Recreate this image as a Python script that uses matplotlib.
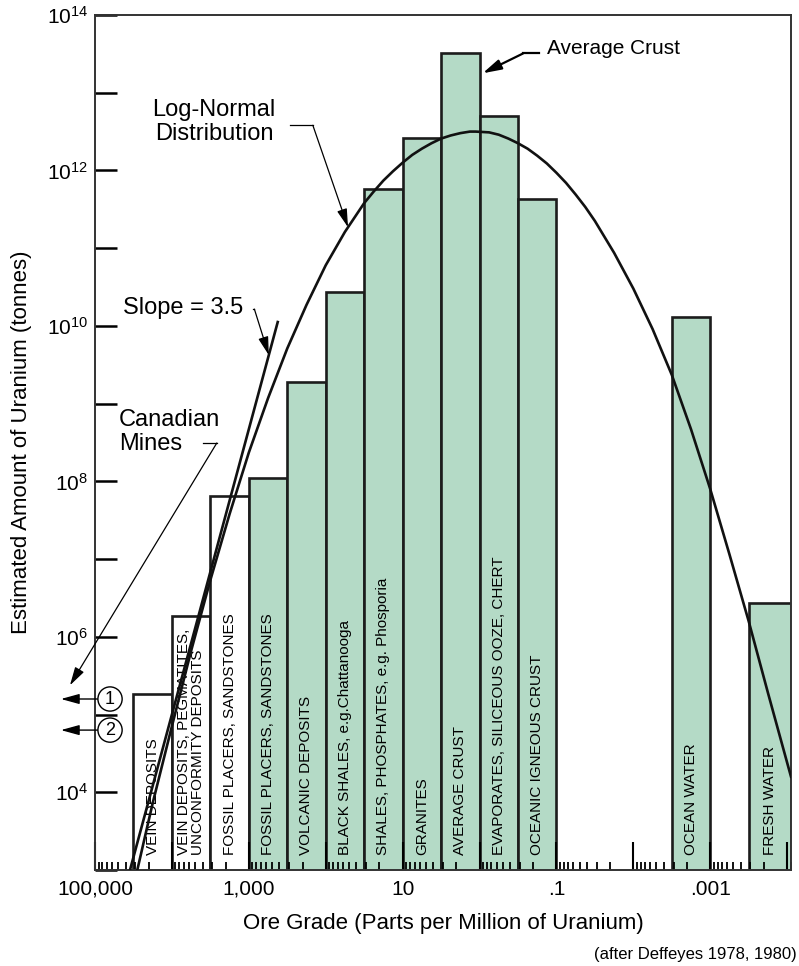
import matplotlib
matplotlib.use("Agg")
import matplotlib.pyplot as plt
import numpy as np

plt.rcParams["font.family"] = ["Liberation Sans", "DejaVu Sans"]
plt.rcParams["mathtext.fontset"] = "custom"
plt.rcParams["mathtext.rm"] = "Liberation Sans"

# deposit classes, grade bins (log10 ppm) and tonnage (log10 tonnes)
deposit_names = [
    "VEIN DEPOSITS",
    "VEIN DEPOSITS, PEGMATITES,\nUNCONFORMITY DEPOSITS",
    "FOSSIL PLACERS, SANDSTONES",
    "FOSSIL PLACERS, SANDSTONES",
    "VOLCANIC DEPOSITS",
    "BLACK SHALES, e.g.Chattanooga",
    "SHALES, PHOSPHATES, e.g. Phosporia",
    "GRANITES",
    "AVERAGE CRUST",
    "EVAPORATES, SILICEOUS OOZE, CHERT",
    "OCEANIC IGNEOUS CRUST",
    "OCEAN WATER",
    "FRESH WATER",
]
grade_hi_exp = [4.5, 4.0, 3.5, 3.0, 2.5, 2.0, 1.5, 1.0, 0.5, 0.0, -0.5, -2.5, -3.5]
grade_lo_exp = [4.0, 3.5, 3.0, 2.5, 2.0, 1.5, 1.0, 0.5, 0.0, -0.5, -1.0, -3.0, -4.05]
tonnes_exp = [5.26, 6.27, 7.81, 8.04, 9.28, 10.44, 11.76, 12.42, 13.51, 12.70, 11.63, 10.11, 6.43]

# log-normal curve
curve_grade_exp = [4.45, 4.25, 4.00, 3.75, 3.50, 3.25, 3.00, 2.75, 2.50, 2.25, 2.00, 1.75,
                   1.50, 1.375, 1.25, 1.125, 1.00, 0.875, 0.75, 0.625, 0.50, 0.375, 0.25,
                   0.125, 0.05, -0.125, -0.25, -0.375, -0.50, -0.625, -0.75, -0.875, -1.00,
                   -1.125, -1.25, -1.375, -1.50, -1.75, -2.00, -2.25, -2.50, -2.75, -3.00,
                   -3.25, -3.50, -3.75, -4.05]
curve_tonnes_exp = [3.00, 3.86, 4.85, 5.82, 6.73, 7.58, 8.37, 9.07, 9.71, 10.27, 10.78, 11.21,
                    11.58, 11.73, 11.87, 11.99, 12.10, 12.20, 12.28, 12.35, 12.41, 12.45, 12.48,
                    12.50, 12.50, 12.49, 12.46, 12.41, 12.35, 12.28, 12.19, 12.09, 11.97,
                    11.84, 11.69, 11.53, 11.35, 10.94, 10.48, 9.96, 9.37, 8.67, 7.90,
                    7.06, 6.20, 5.28, 4.20]

# slope = 3.5 line end points
slope_grade_exp = [4.545, 2.624]
slope_tonnes_exp = [3.0, 10.05]

# canadian mines (off the scale)
mines_tonnes_exp = [5.2, 4.8]
mines_labels = ["1", "2"]

x_tick_exp = [5, 4, 3, 2, 1, 0, -1, -2, -3, -4]
x_tick_labels = ["100,000", "", "1,000", "", "10", "", ".1", "", ".001", ""]
y_tick_exp = list(range(3, 15))

GREEN = "#b4dac6"
EDGE = "#1c1c1c"

fig = plt.figure(figsize=(7.99, 9.66), dpi=100)
ax = fig.add_axes([95 / 799, 1 - 870 / 966, 696 / 799, 855 / 966])
ax.set_xscale("log")
ax.set_yscale("log")
ax.set_xlim(1e5, 10 ** -4.05)
ax.set_ylim(1e3, 1e14)

# * bars
lo = 10.0 ** np.array(grade_lo_exp)
hi = 10.0 ** np.array(grade_hi_exp)
tonnes = 10.0 ** np.array(tonnes_exp)
colors = ["white"] * 3 + [GREEN] * (len(tonnes) - 3)
ax.bar(lo, tonnes - 1e2, width=hi - lo, bottom=1e2, align="edge",
       color=colors, edgecolor=EDGE, linewidth=1.9, zorder=1)

for name, a, b in zip(deposit_names, grade_lo_exp, grade_hi_exp):
    ax.text(10 ** ((a + b) / 2), 0.0175, name, transform=ax.get_xaxis_transform(),
            rotation=90, ha="center", va="bottom", fontsize=11, multialignment="left",
            linespacing=1.0, zorder=3)

# * curves
ax.plot(10.0 ** np.array(curve_grade_exp), 10.0 ** np.array(curve_tonnes_exp),
        color="#111111", lw=1.9, zorder=4, solid_joinstyle="round")
ax.plot(10.0 ** np.array(slope_grade_exp), 10.0 ** np.array(slope_tonnes_exp),
        color="#111111", lw=1.9, zorder=4)

# * ticks
ax.set_xticks(10.0 ** np.array(x_tick_exp), x_tick_labels)
ax.xaxis.set_minor_locator(matplotlib.ticker.LogLocator(base=10, subs=np.arange(2, 10), numticks=100))
ax.xaxis.set_minor_formatter(matplotlib.ticker.NullFormatter())
y_labels = ["$\\mathdefault{10^{%d}}$" % e if e % 2 == 0 and e >= 4 else "" for e in y_tick_exp]
ax.set_yticks(10.0 ** np.array(y_tick_exp), y_labels)
ax.yaxis.set_minor_locator(matplotlib.ticker.NullLocator())
ax.tick_params(axis="x", which="major", direction="in", length=20, width=1.5,
               top=False, pad=7, labelsize=15)
ax.tick_params(axis="x", which="minor", direction="in", length=6, width=1.3, top=False)
ax.tick_params(axis="y", which="major", direction="in", length=16, width=1.8,
               right=False, pad=5, labelsize=15)
for s in ax.spines.values():
    s.set_linewidth(1.4)
    s.set_color("#333333")

ax.set_xlabel("Ore Grade (Parts per Million of Uranium)", fontsize=16)
ax.xaxis.label.set_va("center")
ax.xaxis.set_label_coords(0.5, -0.062)
ax.set_ylabel("Estimated Amount of Uranium (tonnes)", fontsize=16)
ax.yaxis.label.set_va("center")
ax.yaxis.set_label_coords(-0.105, 0.5)

fig.text(0.997, 1 - 955 / 966, "(after Deffeyes 1978, 1980)", ha="right", va="center", fontsize=12)

# * annotations
THIN = 0.9
head = "-|>,head_length=0.8,head_width=0.22"


def leader(x0, x1, y, tip, tip_coords, lw=THIN):
    ax.plot([x0, x1], [y, y], transform=ax.transAxes, color="k", lw=lw, clip_on=False, zorder=5)
    ax.annotate("", xy=tip, xycoords=tip_coords, xytext=(x1, y), textcoords="axes fraction",
                arrowprops=dict(arrowstyle=head, mutation_scale=14, color="k", lw=lw,
                                shrinkA=0, shrinkB=0), annotation_clip=False, zorder=5)


ax.text(0.171, 0.875, "Log-Normal\nDistribution", transform=ax.transAxes,
        ha="center", va="center", fontsize=17, linespacing=1.15)
tip_x = 1.71
tip_y = np.interp(-tip_x, -np.array(curve_grade_exp), curve_tonnes_exp)
leader(0.280, 0.313, 0.871, (10 ** tip_x, 10 ** tip_y), "data")

ax.text(0.040, 0.657, "Slope = 3.5", transform=ax.transAxes, ha="left", va="center", fontsize=17)
tip_x = 2.74
tip_y = np.interp(-tip_x, -np.array(slope_grade_exp), slope_tonnes_exp)
leader(0.227, 0.229, 0.656, (10 ** tip_x, 10 ** tip_y), "data")

ax.text(0.0345, 0.512, "Canadian\nMines", transform=ax.transAxes, ha="left", va="center",
        fontsize=17, linespacing=1.1)
leader(0.155, 0.175, 0.4994, (-0.036, 0.216), "axes fraction")

ax.text(0.649, 0.961, "Average Crust", transform=ax.transAxes, ha="left", va="center", fontsize=15)
leader(0.638, 0.615, 0.955, (10 ** -0.04, 10 ** 13.25), "data", lw=1.6)

for e, lab in zip(mines_tonnes_exp, mines_labels):
    ax.annotate(lab, xy=(-0.049, 10 ** e), xycoords=("axes fraction", "data"),
                xytext=(0.0216, 10 ** e), textcoords=("axes fraction", "data"),
                ha="center", va="center", fontsize=13,
                bbox=dict(boxstyle="circle,pad=0.2", fc="white", ec="k", lw=1.0),
                arrowprops=dict(arrowstyle=head, mutation_scale=14, color="k", lw=1.0,
                                shrinkA=0, shrinkB=0),
                annotation_clip=False, zorder=6)

fig.savefig("out.png", dpi=100)
